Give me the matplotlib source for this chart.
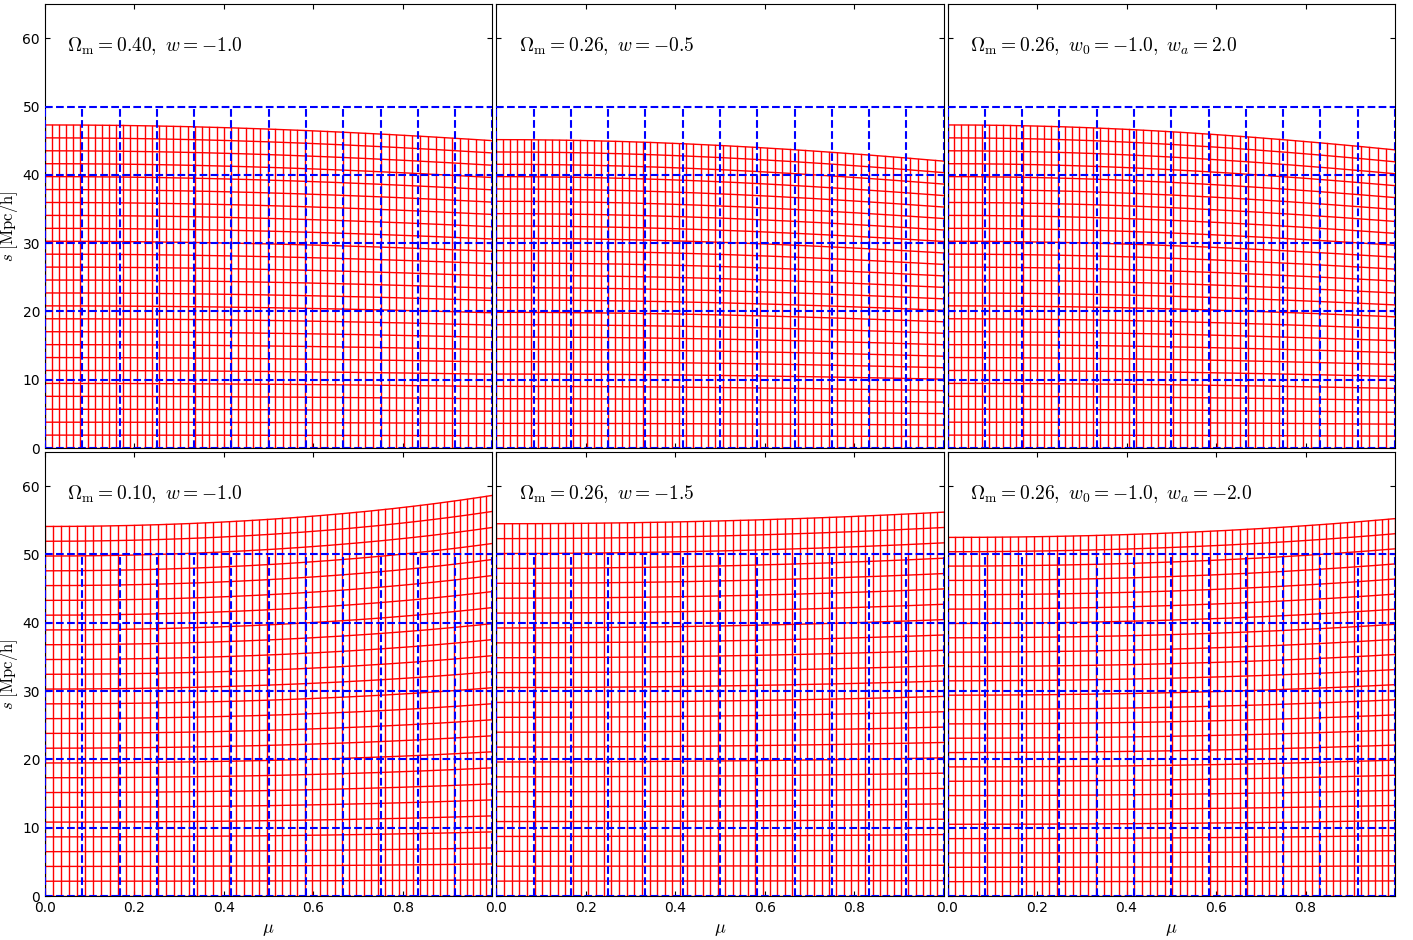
import numpy as np
import matplotlib.pyplot as plt

plt.rcParams['mathtext.fontset'] = 'cm'
plt.rcParams['xtick.direction'] = 'in'
plt.rcParams['ytick.direction'] = 'in'
plt.rcParams['xtick.top'] = True
plt.rcParams['ytick.right'] = True
plt.rcParams['font.size'] = 10

# cosmologies tested against the fiducial one
labels = [r'$\Omega_{\rm m}=0.40,\ w=-1.0$',
          r'$\Omega_{\rm m}=0.26,\ w=-0.5$',
          r'$\Omega_{\rm m}=0.26,\ w_0=-1.0,\ w_a=2.0$',
          r'$\Omega_{\rm m}=0.10,\ w=-1.0$',
          r'$\Omega_{\rm m}=0.26,\ w=-1.5$',
          r'$\Omega_{\rm m}=0.26,\ w_0=-1.0,\ w_a=-2.0$']

# stretch of distances across (mu=0) and along (mu=1) the line of sight
alpha_perp = [0.946, 0.903, 0.946, 1.082, 1.090, 1.050]
alpha_par = [0.900, 0.840, 0.873, 1.173, 1.124, 1.105]

# fiducial binning: fine grid and coarse grid
s_fine = np.arange(0, 51, 2)
mu_fine = np.arange(61) / 60.
s_coarse = [0, 10, 20, 30, 40, 50]
mu_coarse = np.arange(13) / 12.


def distort(s, mu, aperp, apar):
    q = np.sqrt(apar**2 * mu**2 + aperp**2 * (1 - mu**2))
    return mu * apar / q, s * q


fig, axes = plt.subplots(2, 3, figsize=(14.13, 9.40), dpi=100, sharex=True, sharey=True)
fig.subplots_adjust(left=0.0318, right=0.9873, top=0.9957, bottom=0.0468,
                    wspace=0.0084, hspace=0.009)

mu_line = np.linspace(0, 1, 200)

for i, ax in enumerate(axes.flat):
    ap, apar = alpha_perp[i], alpha_par[i]

    # fine grid mapped into the other cosmology
    for s in s_fine:
        x, y = distort(s, mu_line, ap, apar)
        ax.plot(x, y, color='r', lw=1.0, zorder=2)
    for mu in mu_fine:
        x, y = distort(np.array([0., s_fine[-1]]), np.array([mu, mu]), ap, apar)
        ax.plot(x, y, color='r', lw=1.0, zorder=2)

    # coarse bins
    for s in s_coarse:
        ax.plot([0, 1], [s, s], color='b', ls='--', lw=1.5, zorder=3)
    for mu in mu_coarse:
        ax.plot([mu, mu], [0, s_coarse[-1]], color='b', ls='--', lw=1.5, zorder=3)

    ax.text(0.05, 0.905, labels[i], transform=ax.transAxes, fontsize=14,
            va='center', ha='left')

    ax.set_xlim(0, 1)
    ax.set_ylim(0, 65)
    ax.set_xticks([0.0, 0.2, 0.4, 0.6, 0.8])
    ax.set_yticks([0, 10, 20, 30, 40, 50, 60])

for ax in axes[1]:
    ax.set_xlabel(r'$\mu$', fontsize=13)
for ax in axes[:, 0]:
    ax.set_ylabel(r'$s\ [\rm Mpc/h]$', fontsize=12, labelpad=2)

plt.savefig('out.png')
